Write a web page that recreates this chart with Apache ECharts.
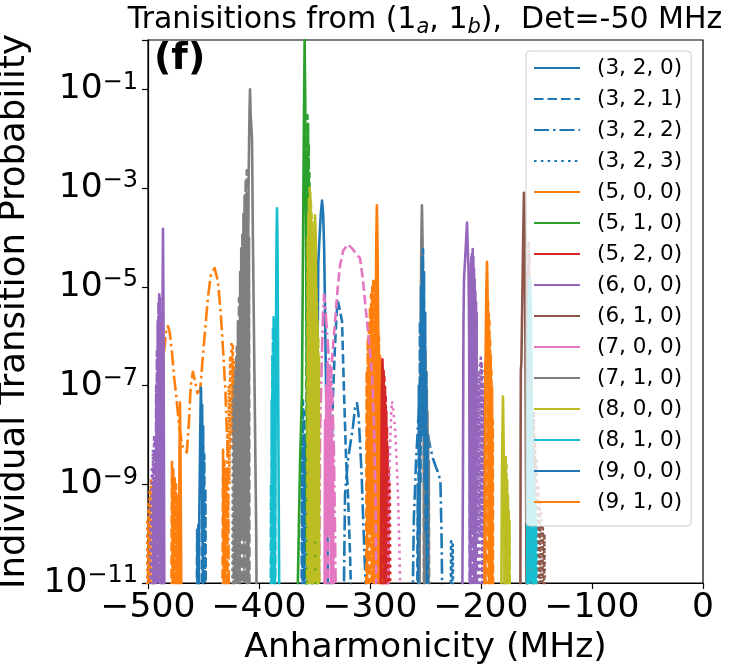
<!DOCTYPE html>
<html><head><meta charset="utf-8">
<script src="https://cdn.jsdelivr.net/npm/echarts@6/dist/echarts.min.js"></script>
<style>html,body{margin:0;padding:0;background:#fff}#c{width:730px;height:667px}</style>
</head><body><div id="c"></div>
<script>
// ---------- tick labels / axes ----------
const xTicks = [-500, -400, -300, -200, -100, 0];
const yExponents = [-11, -9, -7, -5, -3, -1];
const legendNames = ['(3, 2, 0)','(3, 2, 1)','(3, 2, 2)','(3, 2, 3)','(5, 0, 0)','(5, 1, 0)','(5, 2, 0)','(6, 0, 0)','(6, 1, 0)','(7, 0, 0)','(7, 1, 0)','(8, 0, 0)','(8, 1, 0)','(9, 0, 0)','(9, 1, 0)'];

// ---------- data: [anharmonicity MHz, probability] ----------
const blueSolid320 = [[-348,1e-12],[-347.4,3e-7],[-347,2e-6],[-346.6,3e-5],[-345.5,1e-4],[-344.3,3e-4],[-343.2,5.6e-4],[-342.2,3e-4],[-341.3,6e-5],[-340.5,3e-6],[-339.6,1e-7],[-338.6,2e-9],[-337.8,1e-12]];
const blueDashed321 = [[-361.6,1e-12],[-361.2,8e-9],[-360.8,1e-11],[-360.4,5e-8],[-360,1e-10],[-359.6,3e-8],[-359.2,1e-11],[-358.8,1e-8],[-358.4,1e-12],
  [-335,1e-12],[-334.4,5e-9],[-333.3,7e-8],[-331.5,6.5e-7],[-330,3e-6],[-328.8,5e-6],[-327.3,3.5e-6],[-325.2,2e-6],[-323.4,7e-8],[-321.5,3e-9],[-319.8,6e-10],[-318,4e-11],[-316.2,1e-12]];
const blueDashDot322 = [[-324,1e-12],[-322.5,6e-10],[-320,3e-9],[-317.5,7e-9],[-315.3,1.5e-8],[-313.5,3.5e-8],[-311.7,4.4e-8],[-310.3,2.5e-8],[-309,7e-9],[-307.5,1.5e-9],[-306.3,2.4e-10],[-304.5,2e-11],[-302.7,1e-12],
  [-262,1e-12],[-260.5,2e-10],[-258.5,3e-9],[-256.5,2e-8],[-254.5,8e-8],[-252.5,6e-8],[-250.5,2.5e-8],[-248.5,1.2e-8],[-246,6e-9],[-243.5,3.4e-9],[-240.5,2.2e-9],[-238,1.6e-9],[-236.5,1e-9],[-235.5,8e-11],[-234.5,1e-12]];
const blueDotted323 = [[-357.8,1e-12],[-357.4,3e-9],[-357,1e-11],[-356.6,5e-9],[-356.2,1e-12],
  [-227.6,1e-12],[-226.9,7e-11],[-226.3,1e-12],[-225.5,6e-11],[-224.8,1e-12]];
const blueSolid900 = [[-454.6,1e-12],[-453.8,2e-10],[-453.2,3e-9],[-452.7,3e-8],[-452.3,9e-8],[-451.9,3e-8],[-451.4,2e-9],[-450.8,1e-10],[-450.2,1e-12]];
const blueDashed901 = [[-456.2,1e-12],[-455.7,1.2e-10],[-455.2,1e-12],[-454.7,1.5e-10],[-454.2,1e-12],[-451.6,1e-12],[-451.2,4e-8],[-450.8,1e-10],[-450.3,1.5e-8],[-449.8,1e-10],[-449.3,4e-9],[-448.8,1e-11],[-448.3,8e-10],[-447.8,1e-12],
  [-257.5,1e-12],[-257,1e-9],[-256.5,1e-11],[-256,1e-7],[-255.5,1e-10],[-255,2e-6],[-254.5,1e-9],[-254,1e-5],[-253.5,1e-8],[-253,4e-5],[-252.6,1e-7],[-252.2,5.8e-5],[-251.8,1e-8],[-251.3,2e-5],[-250.8,1e-9],[-250.3,3e-6],[-249.8,1e-10],[-249.3,2e-7],[-248.8,1e-11],[-248.3,1e-8],[-247.8,1e-12]];

const orangeSolid500 = [[-472.6,1e-12],[-472,1e-10],[-471.6,5e-9],[-471.2,4.5e-8],[-470.8,5e-9],[-470.3,1e-10],[-469.8,1e-12],
  [-296.5,1e-12],[-295.5,1e-8],[-294.8,2e-6],[-294.3,1e-4],[-293.8,4.5e-4],[-293.3,1e-4],[-292.8,5e-6],[-292.2,1e-7],[-291.5,1e-12]];
const orangeDashed501 = [[-479,1e-12],[-478.4,3e-9],[-477.8,1e-11],[-477.2,2e-9],[-476.6,1e-12],[-476,1.5e-9],[-475.4,1e-12],[-474.8,1e-9],[-474.2,1e-12],[-473.6,6e-10],[-473,1e-12],
  [-433,1e-12],[-432.4,5e-9],[-431.8,1e-11],[-431.2,3e-9],[-430.6,1e-12],[-430,2e-9],[-429.4,1e-12],[-428.8,1e-9],[-428.2,1e-12],
  [-303.5,1e-12],[-303,2e-7],[-302.5,1e-11],[-302,9e-7],[-301.5,1e-10],[-301,2e-6],[-300.5,1e-11],[-300,4e-6],[-299.5,1e-10],[-299,7e-6],[-298.5,1e-11],[-298,1e-5],[-297.5,1e-10],[-297,1.5e-5],[-296.5,1e-11],[-296,1.4e-5],[-295.5,1e-10],[-295,1e-5],[-294.5,1e-11],[-294,6e-6],[-293.5,1e-10],[-293,3e-6],[-292.5,1e-11],[-292,1e-6],[-291.5,1e-10],[-291,4e-7],[-290.5,1e-11],[-290,1.5e-7],[-289.5,1e-10],[-289,5e-8],[-288.5,1e-11],[-288,1e-8],[-287.5,1e-12]];
const orangeDashDot502 = [[-491,1e-12],[-489.5,1e-9],[-487.5,5e-8],[-485.5,5e-7],[-483.5,1.4e-6],[-482,1.6e-6],[-480.5,1.2e-6],[-478.5,5e-7],[-476.5,1.5e-7],[-474.5,6e-8],[-472,1.5e-8],[-469,6e-9],[-465,4.4e-9],[-463,2e-8],[-461.5,1e-7],[-459.5,1.9e-7],[-457.5,1.2e-7],[-455.5,7e-8],[-453,8e-8],[-451,3e-7],[-448.6,1.3e-6],[-446,6e-6],[-443.5,1.7e-5],[-440,2.4e-5],[-437,1.3e-5],[-434.5,3e-6],[-432.3,5e-7],[-430.3,8e-8],[-428,3e-9],[-427,1e-12]];
const orangeDotted503 = [[-501,1e-12],[-500.6,2e-10],[-500.1,1e-12],[-499.6,4e-10],[-499.1,1e-11],[-498.5,8e-10],[-498,1e-11],[-497.4,1.3e-9],[-496.8,1e-11],[-496.2,1e-9],[-495.6,1e-11],[-495,5e-10],[-494.4,1e-12],[-493.8,2e-10],[-493.2,1e-12],
  [-429,1e-12],[-428.4,1e-8],[-427.8,1e-10],[-427.2,1e-7],[-426.6,1e-9],[-426,4e-7],[-425.4,5e-9],[-424.8,8e-7],[-424.2,1e-8],[-423.6,7e-7],[-423,5e-9],[-422.4,3e-7],[-421.8,1e-9],[-421.2,8e-8],[-420.6,1e-10],[-420,1e-8],[-419.4,1e-11],[-418.8,1e-9],[-418.2,1e-12]];
const orangeSolid910 = [[-197,1e-12],[-196.3,1e-8],[-195.8,5e-7],[-195.2,8e-6],[-194.6,3.2e-5],[-194.1,8e-6],[-193.6,5e-7],[-193,2e-8],[-192.3,1e-12]];
const orangeDashed911 = [[-196.5,1e-12],[-196.2,3e-7],[-195.9,1e-11],[-193.9,1e-11],[-193.6,5e-6],[-193.3,1e-10],[-193,3e-6],[-192.7,1e-11],[-192.4,2e-6],[-192.1,1e-10],[-191.8,8e-7],[-191.5,1e-11],[-191.2,4e-7],[-190.9,1e-10],[-190.6,2e-7],[-190.3,1e-11],[-190,9e-8],[-189.7,1e-12],[-189.4,2e-8],[-189.1,1e-12]];

const greenSolid510 = [[-365.5,1e-12],[-365,1e-11],[-363,3e-9],[-361.3,7e-8],[-360.4,5e-5],[-359.5,3e-2],[-358.9,1.0],[-358.3,5e-2],[-357.7,3e-4],[-357.2,3e-6],[-356.6,1e-8],[-356,1e-12]];
const greenDashed511 = [[-357.3,1e-12],[-357,5e-3],[-356.7,1e-6],[-356.4,3e-2],[-356.1,1e-5],[-355.8,2e-2],[-355.5,1e-8],[-355.2,8e-3],[-354.9,1e-10],[-354.6,2e-3],[-354.3,1e-11],[-354,6e-4],[-353.7,1e-10],[-353.4,1.5e-4],[-353.1,1e-11],[-352.8,4e-5],[-352.5,1e-11],[-352.2,8e-6],[-351.9,1e-11],[-351.6,1.5e-6],[-351.3,1e-12]];
const greenDotted513 = [[-353,1e-12],[-352.5,2e-8],[-352,1e-11],[-351.5,6e-8],[-351,1e-11],[-350.5,1e-7],[-350,1e-11],[-349.5,8e-8],[-349,1e-11],[-348.5,4e-8],[-348,1e-11],[-347.5,1.5e-8],[-347,1e-11],[-346.5,5e-9],[-346,1e-12]];

const redSolid520 = [[-290.5,1e-12],[-290,1e-10],[-289.4,5e-8],[-288.8,3.4e-7],[-288.2,1e-7],[-287.6,1e-9],[-287,1e-12]];
const redDashed521 = [[-288,1e-12],[-287.7,2e-7],[-287.4,1e-11],[-287.1,1.5e-7],[-286.8,1e-10],[-286.5,1e-7],[-286.2,1e-11],[-285.9,6e-8],[-285.6,1e-10],[-285.3,3e-8],[-285,1e-11],[-284.7,1.5e-8],[-284.4,1e-11],[-284.1,6e-9],[-283.8,1e-12],[-283.5,2e-9],[-283.2,1e-12]];
const redDotted523 = [[-285,1e-12],[-284.5,3e-9],[-284,1e-11],[-283.4,2e-9],[-282.8,1e-11],[-282.2,1e-9],[-281.6,1e-12]];

const purpleSolid600 = [[-487.8,1e-12],[-487.3,1e-8],[-486.9,5e-6],[-486.5,1.5e-4],[-486.1,5e-6],[-485.7,1e-8],[-485.2,1e-12],
  [-217,1e-12],[-216.3,1e-9],[-215.8,2e-6],[-215.3,1.5e-5],[-214.5,3e-5],[-213.5,8e-5],[-212.6,2e-4],[-211.8,5e-5],[-211.2,2e-5],[-210.7,1e-6],[-210.3,1e-9],[-209.8,1e-12]];
const purpleDashed601 = [[-495.2,1e-12],[-494.8,1e-10],[-494.5,1e-12],[-494.1,1e-9],[-493.8,1e-11],[-493.4,1e-8],[-493.1,1e-11],[-492.7,1e-7],[-492.4,1e-11],[-492,5e-7],[-491.7,1e-10],[-491.3,2e-6],[-491,1e-11],[-490.6,5e-6],[-490.3,1e-10],[-489.9,8e-6],[-489.6,1e-11],[-489.2,6e-6],[-488.9,1e-10],[-488.5,3e-6],[-488.2,1e-11],[-487.8,1e-6],[-487.5,1e-12],[-487.1,2e-7],[-486.8,1e-12],
  [-210.2,1e-12],[-209.9,2e-5],[-209.6,1e-11],[-209.3,3e-5],[-209,1e-10],[-208.7,4e-5],[-208.4,1e-11],[-208.1,5e-5],[-207.8,1e-10],[-207.5,5.8e-5],[-207.2,1e-11],[-206.9,4e-5],[-206.6,1e-10],[-206.3,2.5e-5],[-206,1e-11],[-205.7,1.5e-5],[-205.4,1e-10],[-205.1,8e-6],[-204.8,1e-11],[-204.5,5e-6],[-204.2,1e-10],[-203.9,3e-6],[-203.6,1e-12]];
const purpleDotted603 = [[-498,1e-12],[-497.5,5e-10],[-497,1e-12],[-496.5,2e-9],[-496,1e-12],[-495.5,5e-9],[-495,1e-12],[-494.5,1e-8],[-494,1e-12],[-493.5,5e-9],[-493,1e-12],
  [-203,1e-12],[-202.6,1e-7],[-202.2,1e-11],[-201.8,2e-7],[-201.4,1e-10],[-201,3e-7],[-200.6,1e-11],[-200.2,3.7e-7],[-199.8,1e-10],[-199.4,3e-7],[-199,1e-11],[-198.6,2e-7],[-198.2,1e-10],[-197.8,1e-7],[-197.4,1e-11],[-197,5e-8],[-196.6,1e-12]];

const brownSolid610 = [[-164.6,1e-12],[-164.3,1e-8],[-164.1,2e-7],[-163.6,3e-7],[-162.8,5e-6],[-162,1e-4],[-161.3,8e-4],[-160.6,1e-4],[-160,1e-6],[-159.4,1e-9],[-158.8,1e-12]];
const brownDashed611 = [[-158.7,1e-12],[-158.4,1e-6],[-158.1,1e-11],[-157.8,2e-5],[-157.5,1e-10],[-157.2,8e-5],[-156.9,1e-11],[-156.6,5e-5],[-156.3,1e-10],[-156,1e-5],[-155.7,1e-11],[-155.4,2e-6],[-155.1,1e-10],[-154.8,5e-7],[-154.5,1e-11],[-154.2,1e-7],[-153.9,1e-10],[-153.6,2e-8],[-153.3,1e-11],[-153,5e-9],[-152.7,1e-12]];
const brownDotted613 = [[-153,1e-12],[-152.5,3e-8],[-152,1e-11],[-151.3,1e-8],[-150.6,1e-11],[-149.9,3e-9],[-149.2,1e-11],[-148.5,1e-9],[-147.8,1e-11],[-147.1,5e-10],[-146.4,1e-11],[-145.7,3e-10],[-145,1e-12],[-144.3,1.3e-10],[-143.6,1e-12],[-142.9,1e-10],[-142.2,1e-12]];

const pinkSolid700 = [[-341,1e-12],[-340.5,2e-8],[-340,1e-11],[-339.4,1e-7],[-338.8,1e-10],[-338.2,3e-7],[-337.6,1e-9],[-337,2e-7],[-336.4,1e-10],[-335.8,8e-8],[-335.2,1e-11],[-334.6,2e-8],[-334,1e-12],[-333.4,5e-9],[-332.8,1e-12]];
const pinkDashed701 = [[-338,1e-12],[-337,5e-9],[-336,7e-8],[-334,4e-7],[-331.5,2e-6],[-329,1e-5],[-327,2.7e-5],[-324,5.5e-5],[-319.8,7.2e-5],[-315.5,5.8e-5],[-312,4.5e-5],[-309,3.8e-5],[-306.5,1.5e-5],[-304.5,5e-6],[-302.7,2e-6],[-300.5,6e-7],[-298.2,1.8e-7],[-296.5,2e-8],[-295,5e-10],[-294,1e-12]];
const pinkDashDot702 = [[-346,1e-12],[-345,1e-8],[-343.5,3e-7],[-342.3,3e-6],[-341.4,7e-6],[-340.3,4e-6],[-339,1.5e-6],[-337.8,6e-7],[-336,2e-7],[-334.2,8e-8],[-332.5,5e-9],[-331.5,1e-10],[-330.5,1e-12]];
const pinkDotted703 = [[-284,1e-12],[-283,3e-10],[-282,5e-9],[-281,2.5e-8],[-280.2,4.8e-8],[-279,3e-8],[-277.5,1.5e-8],[-276,3e-9],[-274.8,6e-10],[-273.5,5e-11],[-272.1,1e-12]];

const graySolid710 = [[-411,1e-12],[-410.5,1e-6],[-409.8,1e-4],[-409.2,3e-3],[-408.6,3e-2],[-408.1,0.1],[-407.5,3e-2],[-406.3,1e-2],[-405.5,1e-4],[-404.5,1e-6],[-403.5,1e-8],[-402.5,1e-10],[-402,1e-12],
  [-255.5,1e-12],[-254.8,1e-8],[-254.2,5e-6],[-253.7,1e-4],[-253.2,4.5e-4],[-252.7,1e-4],[-252.2,5e-6],[-251.6,1e-8],[-251,1e-12]];
const grayDashed711 = [[-422.5,1e-12],[-422,5e-8],[-421.5,1e-11],[-421,2e-7],[-420.5,1e-10],[-420,6e-7],[-419.5,1e-11],[-419,2e-6],[-418.5,1e-10],[-418,6e-6],[-417.5,1e-11],[-417,2e-5],[-416.5,1e-10],[-416,6e-5],[-415.5,1e-11],[-415,1.2e-4],[-414.5,1e-10],[-414,3e-4],[-413.5,1e-11],[-413,7e-4],[-412.5,1e-10],[-412,1.5e-3],[-411.5,1e-11],[-411,2.3e-3],[-410.5,1e-10],[-410,8e-4],[-409.5,1e-11],[-409,1e-4],[-408.6,1e-12],
  [-251.5,1e-12],[-251.2,2e-6],[-250.9,1e-11],[-250.6,1e-6],[-250.3,1e-10],[-250,5e-7],[-249.7,1e-11],[-249.4,2e-7],[-249.1,1e-10],[-248.8,8e-8],[-248.5,1e-11],[-248.2,3e-8],[-247.9,1e-10],[-247.6,1e-8],[-247.3,1e-11],[-247,3e-9],[-246.7,1e-12]];
const grayDotted713 = [[-424,1e-12],[-423.5,5e-8],[-423,1e-11],[-422.5,1e-7],[-422,1e-11],[-421.5,2e-7],[-421,1e-11],[-420.5,4e-7],[-420,1e-11],[-419.5,6e-7],[-419,1e-11],[-418.5,5e-7],[-418,1e-11],[-417.5,3e-7],[-417,1e-12]];

const oliveSolid800 = [[-352,1e-12],[-351.3,1e-8],[-350.8,2e-6],[-350.2,1e-4],[-349.5,2.8e-4],[-348.9,1e-4],[-348.4,3e-6],[-347.8,5e-8],[-347.2,1e-12],
  [-181.8,1e-12],[-181.2,1e-9],[-180.7,1e-8],[-180.2,6e-8],[-179.7,1e-8],[-179.2,1e-9],[-178.6,1e-12]];
const oliveDashed801 = [[-356.5,1e-12],[-356.2,1e-4],[-355.9,1e-11],[-355.6,3e-4],[-355.3,1e-10],[-355,6e-4],[-354.7,1e-11],[-354.4,1e-3],[-354.1,1e-10],[-353.8,8e-4],[-353.5,1e-11],[-353.2,5e-4],[-352.9,1e-10],[-352.6,3e-4],[-352.3,1e-11],[-352,2e-4],[-351.7,1e-10],[-351.4,1.2e-4],[-351.1,1e-11],[-350.8,8e-5],[-350.5,1e-10],[-350.2,5e-5],[-349.9,1e-11],[-349.6,3e-5],[-349.3,1e-10],[-349,2e-5],[-348.7,1e-11],[-348.4,1e-5],[-348.1,1e-10],[-347.8,5e-6],[-347.5,1e-11],[-347.2,2e-6],[-346.9,1e-10],[-346.6,1e-6],[-346.3,1e-11],[-346,4e-7],[-345.7,1e-12],
  [-178.8,1e-12],[-178.5,3e-9],[-178.2,1e-12],[-177.8,4e-9],[-177.5,1e-12],[-177.1,2.5e-9],[-176.8,1e-12],[-176.4,1.2e-9],[-176.1,1e-12],[-175.7,6e-10],[-175.4,1e-12],[-175,3e-10],[-174.7,1e-12],[-174.3,1.8e-10],[-174,1e-12]];

const cyanSolid810 = [[-386,1e-12],[-385.3,1e-9],[-384.7,1e-6],[-384.2,1e-4],[-383.8,3.9e-4],[-383.4,1e-4],[-382.9,1e-6],[-382.3,1e-9],[-381.6,1e-12],
  [-158.5,1e-12],[-158,1e-9],[-157.4,5e-7],[-156.6,8e-6],[-155.9,1.5e-5],[-155.2,5e-6],[-154.5,2e-7],[-153.8,1e-9],[-153.2,1e-12]];
const cyanDashed811 = [[-389.5,1e-12],[-389.2,1e-9],[-388.9,1e-12],[-388.6,5e-8],[-388.3,1e-11],[-388,4e-7],[-387.7,1e-10],[-387.4,1.5e-6],[-387.1,1e-11],[-386.8,2.4e-6],[-386.5,1e-10],[-386.2,1.5e-6],[-385.9,1e-11],[-385.6,5e-7],[-385.3,1e-12],
  [-158.6,1e-12],[-158.3,1e-7],[-158,1e-11],[-157.6,8e-8],[-157.2,1e-10],[-156.8,5e-8],[-156.4,1e-11],[-156,3e-8],[-155.6,1e-10],[-155.2,2e-8],[-154.8,1e-11],[-154.4,1e-8],[-154,1e-10],[-153.6,5e-9],[-153.2,1e-11],[-152.8,2e-9],[-152.4,1e-11],[-152,1e-9],[-151.6,1e-12],[-151.2,5e-10],[-150.8,1e-12],[-150.4,2e-10],[-150,1e-12]];

// ---------- styling ----------
const C = {blue:'#1f77b4', orange:'#ff7f0e', green:'#2ca02c', red:'#d62728', purple:'#9467bd', brown:'#8c564b', pink:'#e377c2', gray:'#7f7f7f', olive:'#bcbd22', cyan:'#17becf'};
const DASH = {solid:'solid', dashed:[9.5,4], dashdot:[15,4,2.5,4], dotted:[2.6,4.2]};
const FONT = 'DejaVu Sans';

const specs = [
  ['(3, 2, 0)', blueSolid320, 'blue', 'solid'],
  ['(3, 2, 1)', blueDashed321, 'blue', 'dashed'],
  ['(3, 2, 2)', blueDashDot322, 'blue', 'dashdot'],
  ['(3, 2, 3)', blueDotted323, 'blue', 'dotted'],
  ['(5, 0, 0)', orangeSolid500, 'orange', 'solid'],
  ['(5, 0, 1)', orangeDashed501, 'orange', 'dashed'],
  ['(5, 0, 2)', orangeDashDot502, 'orange', 'dashdot'],
  ['(5, 0, 3)', orangeDotted503, 'orange', 'dotted'],
  ['(5, 1, 0)', greenSolid510, 'green', 'solid'],
  ['(5, 1, 1)', greenDashed511, 'green', 'dashed'],
  ['(5, 1, 3)', greenDotted513, 'green', 'dotted'],
  ['(5, 2, 0)', redSolid520, 'red', 'solid'],
  ['(5, 2, 1)', redDashed521, 'red', 'dashed'],
  ['(5, 2, 3)', redDotted523, 'red', 'dotted'],
  ['(6, 0, 0)', purpleSolid600, 'purple', 'solid'],
  ['(6, 0, 1)', purpleDashed601, 'purple', 'dashed'],
  ['(6, 0, 3)', purpleDotted603, 'purple', 'dotted'],
  ['(6, 1, 0)', brownSolid610, 'brown', 'solid'],
  ['(6, 1, 1)', brownDashed611, 'brown', 'dashed'],
  ['(6, 1, 3)', brownDotted613, 'brown', 'dotted'],
  ['(7, 0, 0)', pinkSolid700, 'pink', 'solid'],
  ['(7, 0, 1)', pinkDashed701, 'pink', 'dashed'],
  ['(7, 0, 2)', pinkDashDot702, 'pink', 'dashdot'],
  ['(7, 0, 3)', pinkDotted703, 'pink', 'dotted'],
  ['(7, 1, 0)', graySolid710, 'gray', 'solid'],
  ['(7, 1, 1)', grayDashed711, 'gray', 'dashed'],
  ['(7, 1, 3)', grayDotted713, 'gray', 'dotted'],
  ['(8, 0, 0)', oliveSolid800, 'olive', 'solid'],
  ['(8, 0, 1)', oliveDashed801, 'olive', 'dashed'],
  ['(8, 1, 0)', cyanSolid810, 'cyan', 'solid'],
  ['(8, 1, 1)', cyanDashed811, 'cyan', 'dashed'],
  ['(9, 0, 0)', blueSolid900, 'blue', 'solid'],
  ['(9, 0, 1)', blueDashed901, 'blue', 'dashed'],
  ['(9, 1, 0)', orangeSolid910, 'orange', 'solid'],
  ['(9, 1, 1)', orangeDashed911, 'orange', 'dashed']
];

const series = specs.map(([name, data, col, st]) => ({
  name, type:'line', data, symbol:'none', showSymbol:false, clip:true, silent:true,
  color: C[col],
  lineStyle:{color:C[col], width:2.6, type:DASH[st], join:'round'},
  emphasis:{disabled:true}
}));

const chart = echarts.init(document.getElementById('c'), null, {renderer:'canvas'});
chart.setOption({
  animation:false,
  backgroundColor:'#fff',
  grid:{left:148, right:27, top:40, bottom:84, show:true, borderColor:'#000', borderWidth:1.2, backgroundColor:'transparent', containLabel:false, outerBoundsMode:'none'},
  xAxis:{
    type:'value', min:xTicks[0], max:xTicks[xTicks.length-1], interval:100,
    axisLine:{show:true, onZero:false, lineStyle:{color:'#000', width:1.2}},
    axisTick:{show:true, length:6, lineStyle:{color:'#000', width:1.2}},
    splitLine:{show:false},
    axisLabel:{fontSize:34.5, color:'#000', fontFamily:FONT, margin:8,
      formatter:v => v < 0 ? '\u2212' + (-v) : String(v)},
    name:'Anharmonicity (MHz)', nameLocation:'middle', nameGap:37,
    nameTextStyle:{fontSize:34.5, color:'#000', fontFamily:FONT}
  },
  yAxis:{
    type:'log', logBase:10, min:Math.pow(10, yExponents[0]), max:1, interval:2,
    axisLine:{show:true, onZero:false, lineStyle:{color:'#000', width:1.2}},
    axisTick:{show:true, length:6, lineStyle:{color:'#000', width:1.2}},
    splitLine:{show:false}, minorTick:{show:false},
    axisLabel:{margin:10, color:'#000', fontFamily:FONT,
      formatter:v => { const e = Math.round(Math.log10(v)); return yExponents.indexOf(e) < 0 ? '' : '{b|10}{s|\u2212' + (-e) + '}'; },
      rich:{ b:{fontSize:34.5, fontFamily:FONT, color:'#000', lineHeight:38},
             s:{fontSize:24, fontFamily:FONT, color:'#000', lineHeight:20, verticalAlign:'top'} }
    },
    name:'Individual Transition Probability', nameLocation:'middle', nameGap:93, nameRotate:90,
    nameTextStyle:{fontSize:35.5, color:'#000', fontFamily:FONT}
  },
  legend:{
    data:legendNames, orient:'vertical', left:526, top:51,
    padding:[5,9,12,7], itemWidth:46, itemHeight:14, itemGap:7,
    itemStyle:{opacity:0},
    backgroundColor:'rgba(255,255,255,0.8)', borderColor:'#cccccc', borderWidth:1, borderRadius:4,
    textStyle:{fontSize:21.5, fontFamily:FONT, color:'#000', lineHeight:24, padding:[0,0,0,12]},
    selectedMode:false
  },
  graphic:[
    {type:'text', x:425, y:20, z:100, style:{
      text:'{n|Tranisitions from (1}{s|a}{n|, 1}{s|b}{n|),  Det=-50 MHz}',
      align:'center', verticalAlign:'middle',
      rich:{ n:{fontSize:30, fontFamily:FONT, fill:'#000', lineHeight:36},
             s:{fontSize:21, fontFamily:FONT, fontStyle:'italic', fill:'#000', lineHeight:20, verticalAlign:'bottom'} } }},
    {type:'text', left:154, top:40, z:100, style:{text:'(f)', fontSize:38, fontWeight:'bold', fontFamily:FONT, fill:'#000'}}
  ],
  series
});
</script></body></html>
